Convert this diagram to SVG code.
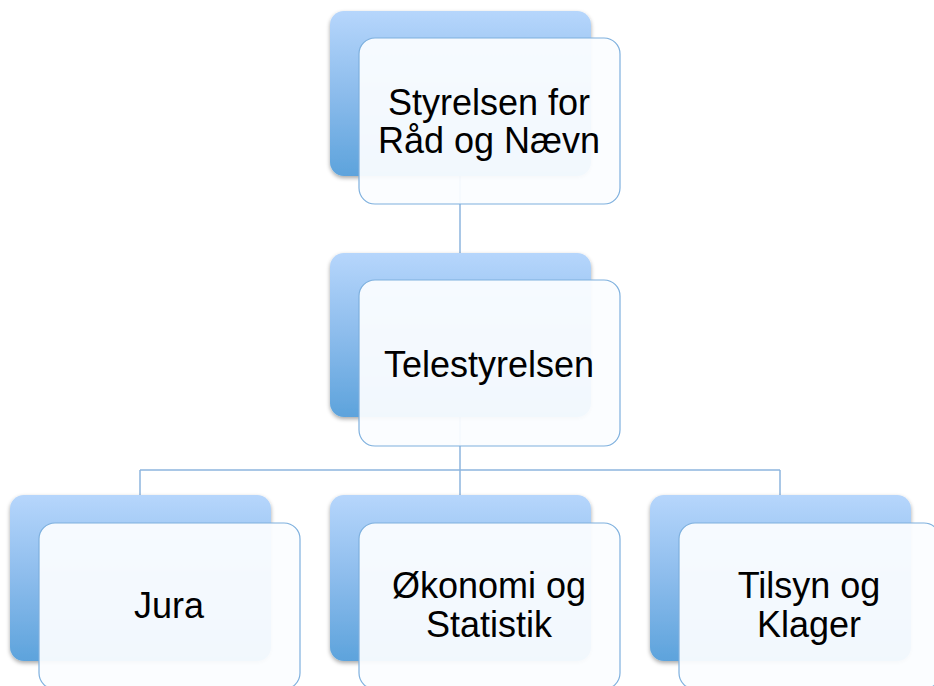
<svg xmlns="http://www.w3.org/2000/svg" width="934" height="686" viewBox="0 0 934 686">
<defs>
<linearGradient id="blue" x1="0" y1="0" x2="0" y2="1">
<stop offset="0" stop-color="#b6d6fc"/>
<stop offset="0.5" stop-color="#8cbcec"/>
<stop offset="1" stop-color="#5da3dc"/>
</linearGradient>
<filter id="sh" x="-10%" y="-10%" width="120%" height="125%">
<feGaussianBlur in="SourceAlpha" stdDeviation="2"/>
<feOffset dx="0" dy="2" result="b"/>
<feComponentTransfer><feFuncA type="linear" slope="0.35"/></feComponentTransfer>
<feMerge><feMergeNode/><feMergeNode in="SourceGraphic"/></feMerge>
</filter>
</defs>
<style>
.back{fill:url(#blue);filter:url(#sh)}
.front{fill:#fbfdff;fill-opacity:0.94;stroke:#7eb0de;stroke-width:1.2}
.lbl{font-family:"Liberation Sans",Arial,sans-serif;font-size:36px;fill:#000;text-anchor:middle}
.conn{stroke:#8db5de;stroke-width:1.5;fill:none}
</style>
<g id="connectors">
<line class="conn" x1="460" y1="176" x2="460" y2="253"/>
<line class="conn" x1="460" y1="417" x2="460" y2="470"/>
<line class="conn" x1="140" y1="470" x2="780" y2="470"/>
<line class="conn" x1="140" y1="470" x2="140" y2="495"/>
<line class="conn" x1="460" y1="470" x2="460" y2="495"/>
<line class="conn" x1="780" y1="470" x2="780" y2="495"/>
</g>
<g id="node-styrelsen">
<rect class="back" x="330" y="11" width="261" height="165" rx="14"/>
<rect class="front" x="359" y="38" width="261" height="166" rx="16"/>
<text class="lbl" x="489" y="115">Styrelsen for</text>
<text class="lbl" x="489" y="153">Råd og Nævn</text>
</g>
<g id="node-telestyrelsen">
<rect class="back" x="330" y="253" width="261" height="164" rx="14"/>
<rect class="front" x="359" y="280" width="261" height="166" rx="16"/>
<text class="lbl" x="489" y="377">Telestyrelsen</text>
</g>
<g id="node-jura">
<rect class="back" x="10" y="495" width="261" height="166" rx="14"/>
<rect class="front" x="39" y="523" width="261" height="166" rx="16"/>
<text class="lbl" x="169" y="618">Jura</text>
</g>
<g id="node-okonomi">
<rect class="back" x="330" y="495" width="261" height="166" rx="14"/>
<rect class="front" x="359" y="523" width="261" height="166" rx="16"/>
<text class="lbl" x="489" y="598">Økonomi og</text>
<text class="lbl" x="489" y="637">Statistik</text>
</g>
<g id="node-tilsyn">
<rect class="back" x="650" y="495" width="261" height="166" rx="14"/>
<rect class="front" x="679" y="523" width="261" height="166" rx="16"/>
<text class="lbl" x="809" y="598">Tilsyn og</text>
<text class="lbl" x="809" y="637">Klager</text>
</g>
</svg>
